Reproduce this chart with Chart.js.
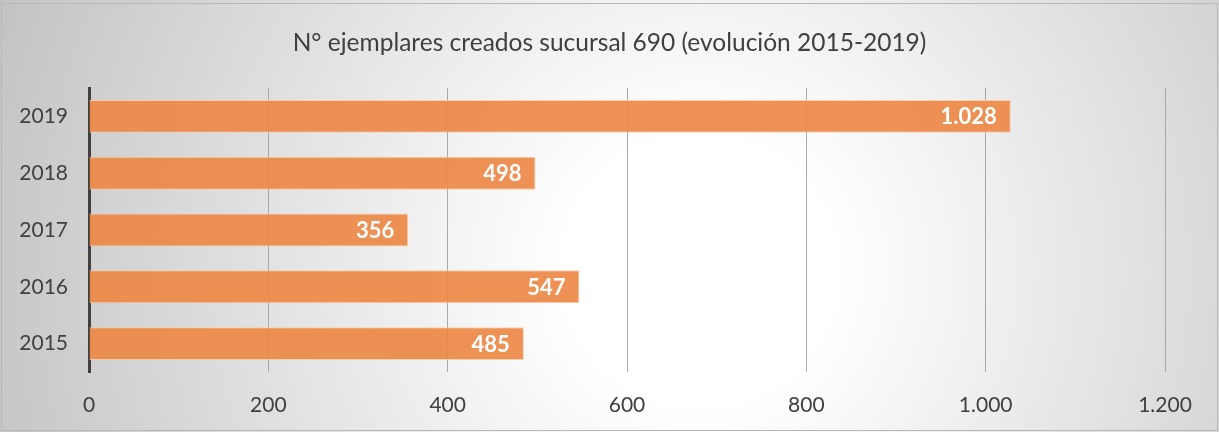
<!DOCTYPE html>
<html>
<head>
<meta charset="utf-8">
<script src="https://cdn.jsdelivr.net/npm/chart.js@4"></script>
<style>
  html, body { margin: 0; padding: 0; background: #fff; }
  #wrap { width: 1219px; height: 432px; }
</style>
</head>
<body>
<div id="wrap"><canvas id="chart" width="1219" height="432"></canvas></div>
<script>
const years = ["2019", "2018", "2017", "2016", "2015"];
const copies = [1028, 498, 356, 547, 485];
const xTicks = [0, 200, 400, 600, 800, 1000, 1200];
const titleText = "N° ejemplares creados sucursal 690 (evolución 2015-2019)";

// thousands with a dot, like the original ("1.028")
function fmt(v) {
  return String(v).replace(/\B(?=(\d{3})+(?!\d))/g, ".");
}

// gray-to-white backdrop, frame and the title centred on the whole canvas
const backdrop = {
  id: "backdrop",
  beforeDraw(chart) {
    const c = chart.ctx;
    const w = chart.width, h = chart.height;
    const g = c.createRadialGradient(700, 270, 0, 700, 270, 760);
    g.addColorStop(0, "#ffffff");
    g.addColorStop(0.18, "#ffffff");
    g.addColorStop(1, "#c2c2c2");
    c.save();
    c.fillStyle = g;
    c.fillRect(0, 0, w, h);
    c.strokeStyle = "#b8b8b8";
    c.lineWidth = 1;
    c.strokeRect(1.5, 3.5, w - 3, h - 5);
    c.fillStyle = "#404040";
    c.font = "24.5px Lato";
    c.textAlign = "center";
    c.textBaseline = "middle";
    c.fillText(titleText, w / 2, 43);
    c.restore();
  },
};

const barLabels = {
  id: "barLabels",
  afterDatasetsDraw(chart) {
    const c = chart.ctx;
    const meta = chart.getDatasetMeta(0);
    c.save();
    c.fillStyle = "#ffffff";
    c.font = "bold 22px Lato";
    c.textAlign = "right";
    c.textBaseline = "middle";
    meta.data.forEach((bar, i) => {
      c.fillText(fmt(copies[i]), bar.x - 14, bar.y + 1);
    });
    c.restore();
  },
};

new Chart(document.getElementById("chart"), {
  type: "bar",
  data: {
    labels: years,
    datasets: [
      {
        data: copies,
        backgroundColor: "rgba(237, 137, 72, 0.93)",
        borderColor: "rgba(250, 205, 170, 0.9)",
        borderWidth: 1,
        borderSkipped: "left",
        barPercentage: 0.58,
        categoryPercentage: 1,
      },
    ],
  },
  options: {
    indexAxis: "y",
    responsive: false,
    animation: false,
    layout: { padding: { left: 0, right: 54, top: 88, bottom: 0 } },
    plugins: {
      legend: { display: false },
      tooltip: { enabled: false },
      title: { display: false },
    },
    scales: {
      x: {
        min: 0,
        max: 1200,
        afterBuildTicks(scale) {
          scale.ticks = xTicks.map((v) => ({ value: v }));
        },
        afterFit(scale) {
          scale.height = 60;
        },
        grid: { color: "#a8a8a8", lineWidth: 1, drawTicks: false },
        border: { display: false },
        ticks: {
          color: "#404040",
          font: { family: "Lato", size: 21 },
          padding: 21,
          callback: (v) => fmt(v),
        },
      },
      y: {
        afterFit(scale) {
          scale.width = 89;
        },
        grid: { display: false, drawTicks: false },
        border: { display: true, color: "#404040", width: 3 },
        ticks: {
          color: "#404040",
          font: { family: "Lato", size: 21 },
          padding: 21,
        },
      },
    },
  },
  plugins: [backdrop, barLabels],
});
</script>
</body>
</html>
